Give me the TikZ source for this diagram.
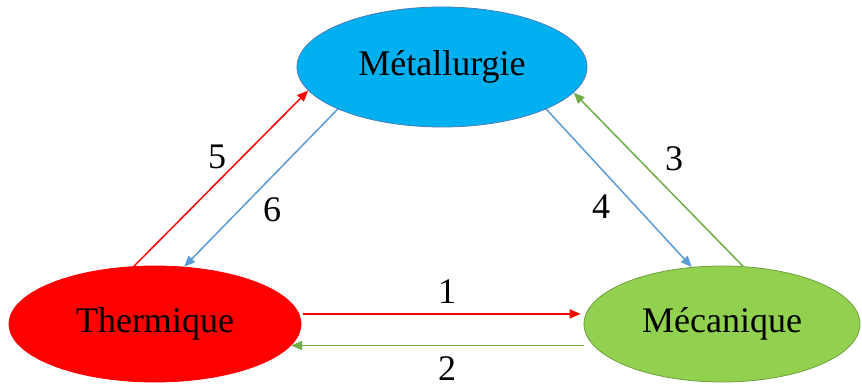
\documentclass[tikz,border=0pt]{standalone}
\usepackage{fontspec}
\setmainfont{Liberation Serif}
\usetikzlibrary{shapes.geometric,arrows.meta,calc}

\definecolor{metfill}{HTML}{00B0F0}
\definecolor{metline}{HTML}{4A7EBB}
\definecolor{mecfill}{HTML}{92D050}
\definecolor{mecline}{HTML}{6FA040}
\definecolor{arrblue}{HTML}{5B9BD5}
\definecolor{arrgreen}{HTML}{70AD47}

\begin{document}
\begin{tikzpicture}[x=1pt,y=-1pt,
  fieldbox/.style={ellipse,inner sep=0pt,line width=0.8pt,font=\fontsize{36}{40}\selectfont},
  num/.style={inner sep=0pt,font=\fontsize{36}{40}\selectfont},
  link/.style={line width=1.5pt,-{Triangle[length=11pt,width=9pt]}}]

  \useasboundingbox (0,0) rectangle (862,385);

  %% fields
  \node [fieldbox,fill=metfill,draw=metline,minimum width=290pt,minimum height=120pt] (Met) at (442,67) {Métallurgie};
  \node [fieldbox,fill=red,draw=red,minimum width=292pt,minimum height=116pt] (Therm) at (155,324) {Thermique};
  \node [fieldbox,fill=mecfill,draw=mecline,minimum width=276pt,minimum height=116pt] (Meca) at (722,324) {Mécanique};

  %% couplings
  \draw[link,red] ([xshift=4pt]Therm.4) -- ($(Therm.4 -| Meca.west) + (-3,0)$);
  \draw[link,arrgreen] (Therm.-9 -| Meca.west) -- (Therm.-9);
  \draw[link,arrgreen] (Meca.70) -- (Met.349.5);
  \draw[link,arrblue] (Met.338) -- (Meca.118);
  \draw[link,red] (Therm.110) -- (Met.190);
  \draw[link,arrblue] (Met.202) -- (Therm.63);

  %% numbers
  \node [num] (lab1) at (447,292) {1};
  \node [num] (lab2) at (447,369) {2};
  \node [num] (lab3) at (674,159) {3};
  \node [num] (lab4) at (601,207) {4};
  \node [num] (lab5) at (217,157) {5};
  \node [num] (lab6) at (272,210) {6};

\end{tikzpicture}
\end{document}
